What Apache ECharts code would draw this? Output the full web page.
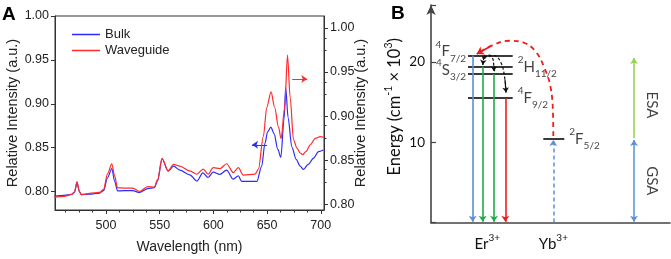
<!DOCTYPE html>
<html>
<head>
<meta charset="utf-8">
<script src="https://cdn.jsdelivr.net/npm/echarts@6/dist/echarts.min.js"></script>
<style>
html,body{margin:0;padding:0;background:#fff;}
#main{width:671px;height:259px;}
</style>
</head>
<body>
<div id="main"></div>
<script>
// A: 光谱 [波长 nm, 相对强度]
var bulk = [[452,0.7948],[461,0.7956],[468,0.7967],[470.6,0.799],[473,0.810],[475.2,0.800],[477,0.7967],[484.6,0.797],[494,0.7983],[497.7,0.801],[501.4,0.8156],[505.4,0.8263],[508,0.812],[510.7,0.8008],[517,0.801],[524.8,0.801],[531.3,0.799],[538.8,0.8033],[545,0.8044],[548,0.812],[552.2,0.8374],[557.8,0.8233],[563,0.8289],[568.7,0.8244],[578,0.819],[584.6,0.812],[590.2,0.8214],[595,0.816],[599.8,0.8222],[606,0.8196],[612.3,0.8244],[618.5,0.8141],[623.2,0.8178],[626.4,0.8115],[640.4,0.8115],[645,0.829],[648,0.8548],[650.5,0.868],[653.5,0.8733],[656.5,0.866],[660,0.848],[662.8,0.839],[665.9,0.884],[667.3,0.9185],[669.6,0.884],[673,0.851],[677.1,0.8367],[680.8,0.8289],[683.9,0.8252],[688.3,0.831],[693.3,0.8381],[697.9,0.8456],[702.3,0.8474]];
var waveguide = [[452,0.8081],[461,0.8089],[468,0.8111],[470.6,0.814],[473,0.8256],[475.2,0.8144],[477,0.8106],[484.6,0.8122],[494,0.8133],[497.7,0.8167],[501.4,0.8344],[505.4,0.8459],[508,0.8322],[510.7,0.8186],[517,0.8183],[524.8,0.8183],[531.3,0.8144],[538.8,0.82],[545,0.8194],[548,0.8278],[552.2,0.8519],[557.8,0.8378],[563,0.8452],[568.7,0.8433],[578,0.8378],[584.5,0.834],[590.5,0.8397],[595.1,0.8341],[599.8,0.8414],[606,0.8403],[612.3,0.8459],[618.5,0.8359],[623.2,0.8414],[627.9,0.833],[638.8,0.8341],[641.9,0.8397],[646.5,0.8767],[649.7,0.91],[653.7,0.9274],[657,0.91],[660.6,0.8878],[663,0.8744],[666.4,0.91],[669,0.9692],[671.5,0.921],[674.6,0.873],[678,0.8633],[680.8,0.8581],[683.2,0.8563],[686.4,0.86],[690.2,0.8674],[694.9,0.8748],[699.5,0.8767],[703,0.876]];
var wlMajor = [500, 550, 600, 650, 700];
var wlMinor = [462.5, 475, 487.5, 512.5, 525, 537.5, 562.5, 575, 587.5, 612.5, 625, 637.5, 662.5, 675, 687.5];
var intMajor = [0.80, 0.85, 0.90, 0.95, 1.00];
var intMinor = [0.825, 0.875, 0.925, 0.975];
var bulkArrow = [[650, 0.8533], [636, 0.8533]];
var guideArrow = [[673.4, 0.942], [687.4, 0.942]];

// B: 能级 (x 10^3 cm-1)
var erLevelE = [20.8, 19.4, 18.5, 15.5];
var erLevelName = [['4','F','7/2'], ['2','H','11/2'], ['4','S','3/2'], ['4','F','9/2']];
var ybLevelE = 10.4;
var ybLevelName = ['2','F','5/2'];
var esaTopE = 20.5;
var ionNames = ['Er', 'Yb'];
var etCurve = [[122.3,10.8],[122,13.5],[119.5,16.9],[113,19.4],[104,21.4],[92,22.45],[78,22.65],[60,22.0],[45.7,21.0]];
var relax1 = [[53,20.59],[52.2,20.1],[51.7,19.65]];
var relax2 = [[53,20.59],[58,20.85],[61.5,20.5],[62.8,19.5],[63,18.85]];
var relax3 = [[53,20.59],[63,20.8],[70,19.9],[74,17.8],[75,16.2]];

// 布局
var emitX = [41.7, 51.7, 63, 74.3];
var emitColor = ['#5b8fd6', '#1faa48', '#1faa48', '#ee1c1c'];
var erLine = [37, 81.7];
var ybLine = [112.3, 133.3];
var ionX = [56.3, 122.3];
var pumpX = 203;

var fA = '"Liberation Sans", Arial, sans-serif';
var fB = 'Lato, "Liberation Sans", sans-serif';
var richB = {
  m: {fontSize: 15, fontFamily: fB, color: '#111', lineHeight: 24},
  p: {fontSize: 10, fontFamily: fB, color: '#111', lineHeight: 20, verticalAlign: 'top'},
  b: {fontSize: 10, fontFamily: fB, color: '#111', lineHeight: 10, verticalAlign: 'bottom'}
};
var richName = {
  m: {fontSize: 16.5, fontFamily: fB, color: '#111', lineHeight: 24},
  p: {fontSize: 10.5, fontFamily: fB, color: '#111', lineHeight: 18, verticalAlign: 'top'}
};

function lastSeg(pts) {
  return [pts[pts.length - 2], pts[pts.length - 1]];
}

var chart = echarts.init(document.getElementById('main'));

var levelLabels = erLevelE.map(function (e, i) {
  var n = erLevelName[i];
  var left = (i % 2 === 0);
  return {
    value: [left ? erLine[0] : erLine[1], e],
    label: {
      position: left ? 'left' : 'right',
      distance: left ? 2 : 5,
      offset: [0, left ? -4 : 0],
      formatter: '{p|' + n[0] + '}{m|' + n[1] + '}{b|' + n[2] + '}'
    }
  };
});
levelLabels.push({
  value: [ybLine[1], ybLevelE],
  label: {position: 'right', distance: 5,
    formatter: '{p|' + ybLevelName[0] + '}{m|' + ybLevelName[1] + '}{b|' + ybLevelName[2] + '}'}
});

var levelLines = erLevelE.map(function (e) {
  return {coords: [[erLine[0], e], [erLine[1], e]]};
});
levelLines.push({coords: [[ybLine[0], ybLevelE], [ybLine[1], ybLevelE]]});

var emitLines = erLevelE.map(function (e, i) {
  return {coords: [[emitX[i], e], [emitX[i], 0.12]], lineStyle: {color: emitColor[i]}};
});

var option = {
  animation: false,
  textStyle: {fontFamily: fA},
  graphic: [
    {type: 'text', left: 2, top: 5, style: {text: 'A', font: 'bold 19px ' + fA, fill: '#000'}},
    {type: 'text', left: 391, top: 4, style: {text: 'B', font: 'bold 19px ' + fA, fill: '#000'}}
  ],
  legend: {
    data: ['Bulk', 'Waveguide'],
    orient: 'vertical', left: 72, top: 28, padding: 0,
    icon: 'rect', itemWidth: 28, itemHeight: 1.5, itemGap: 3,
    textStyle: {fontSize: 13, fontFamily: fA, color: '#222'}
  },
  grid: [
    {left: 55, top: 16, width: 269, height: 199, show: true, borderColor: '#333', borderWidth: 1},
    {left: 431, top: 5, width: 239, height: 217.6}
  ],
  xAxis: [
    {gridIndex: 0, type: 'value', min: 452.5, max: 703,
      axisLine: {onZero: false, lineStyle: {color: '#333'}},
      splitLine: {show: false},
      axisTick: {customValues: wlMajor, length: 4, lineStyle: {color: '#333'}},
      axisLabel: {customValues: wlMajor, margin: 9, fontSize: 12.5, color: '#222', fontFamily: fA},
      name: 'Wavelength (nm)', nameLocation: 'middle', nameGap: 30, nameMoveOverlap: false,
      nameTextStyle: {fontSize: 14, color: '#222', fontFamily: fA}},
    {gridIndex: 0, type: 'value', min: 452.5, max: 703, position: 'bottom',
      axisLine: {show: false}, splitLine: {show: false}, axisLabel: {show: false},
      axisTick: {customValues: wlMinor, length: 2.5, lineStyle: {color: '#333'}}},
    {gridIndex: 1, type: 'value', min: 0, max: 239,
      axisLine: {onZero: false, lineStyle: {color: '#444', width: 1.6}},
      splitLine: {show: false}, axisTick: {show: false},
      axisLabel: {customValues: ionX, margin: 10,
        formatter: function (v) { return '{m|' + ionNames[v === ionX[0] ? 0 : 1] + '}{p|3+}'; },
        rich: richB}}
  ],
  yAxis: [
    {gridIndex: 0, type: 'value', min: 0.779, max: 1.0,
      axisLine: {lineStyle: {color: '#333'}}, splitLine: {show: false},
      axisTick: {customValues: intMajor, length: 4, lineStyle: {color: '#333'}},
      axisLabel: {customValues: intMajor, margin: 6, fontSize: 12.5, color: '#222', fontFamily: fA,
        formatter: function (v) { return v.toFixed(2); }},
      name: 'Relative Intensity (a.u.)', nameLocation: 'middle', nameGap: 35, nameMoveOverlap: false,
      nameTextStyle: {fontSize: 14.5, color: '#222', fontFamily: fA}},
    {gridIndex: 0, type: 'value', min: 0.7934, max: 1.0136, position: 'right',
      axisLine: {lineStyle: {color: '#333'}}, splitLine: {show: false},
      axisTick: {customValues: intMajor, length: 4, lineStyle: {color: '#333'}},
      axisLabel: {customValues: intMajor, margin: 6, fontSize: 12.5, color: '#222', fontFamily: fA,
        formatter: function (v) { return v.toFixed(2); }},
      name: 'Relative Intensity (a.u.)', nameLocation: 'middle', nameGap: 29, nameMoveOverlap: false,
      nameTextStyle: {fontSize: 14.5, color: '#222', fontFamily: fA}},
    {gridIndex: 0, type: 'value', min: 0.779, max: 1.0,
      axisLine: {show: false}, splitLine: {show: false}, axisLabel: {show: false},
      axisTick: {customValues: intMinor, length: 2.5, lineStyle: {color: '#333'}}},
    {gridIndex: 0, type: 'value', min: 0.7934, max: 1.0136, position: 'right',
      axisLine: {show: false}, splitLine: {show: false}, axisLabel: {show: false},
      axisTick: {customValues: intMinor, length: 2.5, lineStyle: {color: '#333'}}},
    {gridIndex: 1, type: 'value', min: 0, max: 27.1, interval: 10,
      axisLine: {lineStyle: {color: '#444', width: 1.6}, symbol: ['none', 'arrow'], symbolSize: [7, 10]},
      splitLine: {show: false},
      axisTick: {inside: true, length: 5, lineStyle: {color: '#444', width: 1.2}},
      axisLabel: {margin: 6, fontSize: 13.5, color: '#111', fontFamily: fB,
        formatter: function (v) { return (v === 10 || v === 20) ? String(v) : ''; }},
      name: '{m|Energy (cm}{p|-1}{m| × 10}{p|3}{m|)}', nameLocation: 'middle', nameGap: 24,
      nameTextStyle: {rich: richName, padding: [0, 0, 0, 14]}}
  ],
  series: [
    {name: 'Bulk', type: 'line', xAxisIndex: 0, yAxisIndex: 0, data: bulk,
      symbol: 'none', smooth: 0.3, smoothMonotone: 'x',
      lineStyle: {color: '#2b2bff', width: 1.2}, itemStyle: {color: '#2b2bff'}},
    {name: 'Waveguide', type: 'line', xAxisIndex: 0, yAxisIndex: 1, data: waveguide,
      symbol: 'none', smooth: 0.3, smoothMonotone: 'x',
      lineStyle: {color: '#ff2b2b', width: 1.2}, itemStyle: {color: '#ff2b2b'}},
    {type: 'lines', coordinateSystem: 'cartesian2d', xAxisIndex: 0, yAxisIndex: 0,
      symbol: ['none', 'arrow'], symbolSize: 6,
      lineStyle: {color: '#2b2bff', width: 1.2, opacity: 1}, data: [{coords: bulkArrow}]},
    {type: 'lines', coordinateSystem: 'cartesian2d', xAxisIndex: 0, yAxisIndex: 1,
      symbol: ['none', 'arrow'], symbolSize: 6,
      lineStyle: {color: '#ff2b2b', width: 1.2, opacity: 1}, data: [{coords: guideArrow}]},

    // B
    {type: 'lines', coordinateSystem: 'cartesian2d', xAxisIndex: 2, yAxisIndex: 4,
      symbol: 'none', lineStyle: {color: '#3a3a3a', width: 1.8, opacity: 1}, data: levelLines},
    {type: 'lines', coordinateSystem: 'cartesian2d', xAxisIndex: 2, yAxisIndex: 4,
      symbol: ['none', 'arrow'], symbolSize: 6, lineStyle: {width: 1.6, opacity: 1}, data: emitLines},
    {type: 'lines', coordinateSystem: 'cartesian2d', xAxisIndex: 2, yAxisIndex: 4,
      symbol: ['none', 'arrow'], symbolSize: 6,
      lineStyle: {color: '#5b8fd6', width: 1.5, type: [4, 3], opacity: 1},
      data: [{coords: [[ionX[1], 0], [ionX[1], ybLevelE - 0.1]]}]},
    {type: 'lines', coordinateSystem: 'cartesian2d', xAxisIndex: 2, yAxisIndex: 4,
      symbol: ['arrow', 'arrow'], symbolSize: 6,
      lineStyle: {color: '#5b8fd6', width: 1.5, opacity: 1},
      data: [{coords: [[pumpX, 0.1], [pumpX, ybLevelE - 0.1]]}]},
    {type: 'lines', coordinateSystem: 'cartesian2d', xAxisIndex: 2, yAxisIndex: 4,
      symbol: ['none', 'arrow'], symbolSize: 6,
      lineStyle: {color: '#92d050', width: 1.5, opacity: 1},
      data: [{coords: [[pumpX, ybLevelE + 0.1], [pumpX, esaTopE]]}]},
    // 能量传递 (红色虚线)
    {type: 'line', xAxisIndex: 2, yAxisIndex: 4, data: etCurve, symbol: 'none', smooth: 0.4,
      lineStyle: {color: '#ee1c1c', width: 1.8, type: [5, 4]}},
    {type: 'lines', coordinateSystem: 'cartesian2d', xAxisIndex: 2, yAxisIndex: 4,
      symbol: ['none', 'arrow'], symbolSize: 7,
      lineStyle: {color: '#ee1c1c', width: 1.8, opacity: 1}, data: [{coords: lastSeg(etCurve)}]},
    // 无辐射弛豫 (黑色虚线)
    {type: 'line', xAxisIndex: 2, yAxisIndex: 4, data: relax1, symbol: 'none', smooth: 0.4,
      lineStyle: {color: '#111', width: 1.2, type: [3, 2]}},
    {type: 'line', xAxisIndex: 2, yAxisIndex: 4, data: relax2, symbol: 'none', smooth: 0.4,
      lineStyle: {color: '#111', width: 1.2, type: [3, 2]}},
    {type: 'line', xAxisIndex: 2, yAxisIndex: 4, data: relax3, symbol: 'none', smooth: 0.4,
      lineStyle: {color: '#111', width: 1.2, type: [3, 2]}},
    {type: 'lines', coordinateSystem: 'cartesian2d', xAxisIndex: 2, yAxisIndex: 4,
      symbol: ['none', 'arrow'], symbolSize: 5,
      lineStyle: {color: '#111', width: 1.2, opacity: 1},
      data: [{coords: lastSeg(relax1)}, {coords: lastSeg(relax2)}, {coords: lastSeg(relax3)}]},
    {type: 'scatter', xAxisIndex: 2, yAxisIndex: 4, data: [relax1[0]], symbolSize: 4,
      itemStyle: {color: '#111'}},
    // 标签
    {type: 'scatter', xAxisIndex: 2, yAxisIndex: 4, symbolSize: 0, data: levelLabels,
      label: {show: true, rich: richB}},
    {type: 'scatter', xAxisIndex: 2, yAxisIndex: 4, symbolSize: 0,
      data: [[pumpX + 17.7, (ybLevelE + esaTopE) / 2 - 0.8], [pumpX + 17.7, ybLevelE / 2]],
      label: {show: true, position: 'inside', rotate: -90, fontSize: 15, fontFamily: fB, color: '#111',
        formatter: function (p) { return p.dataIndex === 0 ? 'ESA' : 'GSA'; }}}
  ]
};
chart.setOption(option);
</script>
</body>
</html>
